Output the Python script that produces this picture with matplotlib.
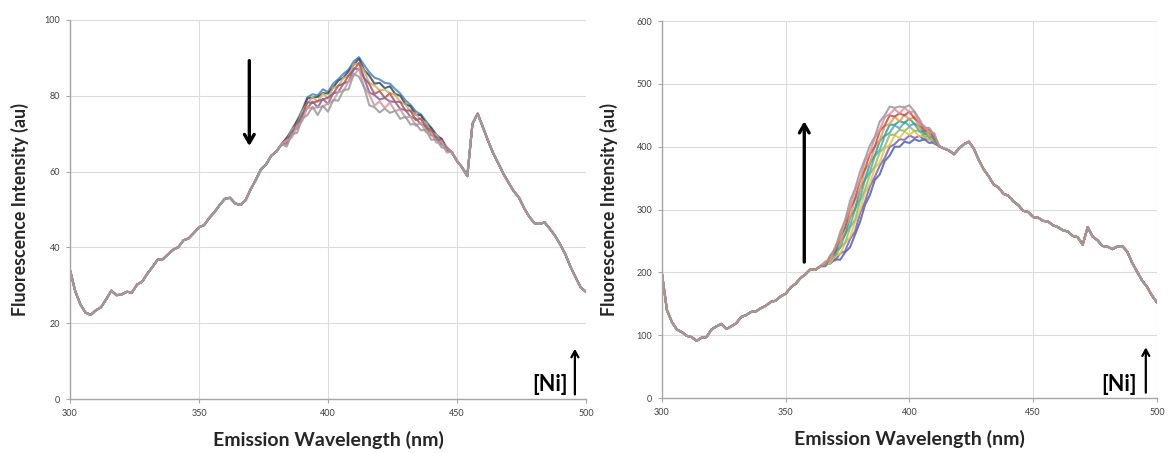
import numpy as np
import matplotlib
matplotlib.use("Agg")
import matplotlib.pyplot as plt

plt.rcParams['font.family'] = ['Lato', 'DejaVu Sans']

# ---------------- data ----------------
wavelength = list(range(300, 501, 2))

# Left panel: common spectrum (top curve)
left_base = [34.0, 28.5, 25.0, 22.8, 22.2, 23.4, 24.2, 26.3, 28.6, 27.4,
             27.6, 28.3, 28.1, 30.2, 31.0, 33.1, 34.9, 36.8, 36.9, 38.2,
             39.4, 40.1, 41.9, 42.4, 43.8, 45.3, 45.9, 47.8, 49.3, 51.2,
             52.8, 53.1, 51.6, 51.2, 52.4, 55.3, 57.8, 60.6, 61.9, 64.2,
             65.3, 67.2, 68.8, 71.2, 73.4, 76.3, 79.6, 80.4, 80.1, 81.7,
             81.0, 83.2, 84.4, 85.8, 86.9, 89.1, 90.2, 88.1, 86.2, 84.8,
             84.3, 83.4, 83.2, 81.8, 80.6, 78.8, 77.6, 75.9, 75.1, 73.3,
             71.6, 69.8, 68.6, 66.4, 65.1, 62.8, 61.1, 58.8, 72.6, 75.3,
             71.8, 68.2, 64.9, 62.2, 59.4, 57.1, 54.8, 53.2, 50.4, 48.1,
             46.4, 46.2, 46.6, 44.9, 43.1, 40.8, 38.2, 34.9, 32.1, 29.4,
             28.3]
# Left panel: region where the titration curves separate (384-446 nm)
left_window_start = 384
left_s1 = [68.9, 70.6, 73.3, 75.6, 79.3, 79.5, 79.7, 80.7, 80.6, 82.2, 84.0, 84.8,
           86.5, 88.2, 89.8, 86.8, 85.3, 83.2, 83.4, 82.0, 82.5, 80.5, 80.0, 77.8,
           77.2, 75.0, 74.9, 72.6, 71.5, 69.2, 68.7, 66.0]
left_s2 = [68.0, 71.0, 72.3, 75.8, 78.0, 79.6, 78.4, 80.6, 79.3, 82.1, 82.5, 84.7,
           85.2, 88.3, 88.5, 86.6, 83.4, 82.7, 81.5, 81.6, 80.7, 80.3, 78.4, 77.7,
           75.9, 75.1, 73.7, 72.8, 70.5, 69.6, 67.8, 66.5]
left_s3 = [68.6, 69.8, 72.8, 74.5, 78.3, 78.1, 78.6, 79.0, 79.5, 80.5, 82.7, 83.1,
           85.4, 86.8, 88.7, 84.7, 83.1, 80.5, 81.2, 79.5, 80.6, 78.4, 78.4, 76.1,
           76.1, 73.6, 74.0, 71.5, 71.0, 68.4, 68.4, 65.5]
left_s4 = [67.4, 70.5, 71.4, 75.0, 76.7, 78.5, 76.9, 79.2, 77.8, 80.7, 80.9, 83.3,
           83.7, 87.2, 87.0, 84.7, 80.9, 80.2, 79.0, 79.4, 78.5, 78.4, 76.5, 76.3,
           74.4, 74.0, 72.5, 72.0, 69.6, 69.1, 67.2, 66.3]
left_s5 = [68.2, 69.0, 72.0, 73.3, 77.0, 76.6, 77.1, 77.1, 78.0, 78.6, 81.0, 81.2,
           83.9, 85.3, 87.2, 82.3, 80.4, 77.4, 78.5, 76.8, 78.2, 76.0, 76.4, 74.2,
           74.6, 72.1, 72.9, 70.3, 70.2, 67.6, 68.0, 65.0]
left_s6 = [66.6, 69.9, 70.2, 74.0, 74.9, 77.1, 74.9, 77.4, 75.8, 78.9, 78.7, 81.5,
           81.7, 85.8, 85.0, 82.3, 77.5, 77.0, 75.6, 76.6, 75.5, 76.0, 73.9, 74.5,
           72.4, 72.6, 70.9, 71.0, 68.4, 68.5, 66.4, 66.1]

# Right panel: common spectrum (366-410 nm filled per series below)
right_base = [198, 140, 121, 109, 105, 99, 97, 91, 96, 97,
              109, 114, 118, 110, 114, 119, 129, 132, 137, 138,
              143, 147, 153, 155, 162, 166, 176, 182, 191, 197,
              205, 204, 210, 214, 221, 0, 0, 0, 0, 0,
              0, 0, 0, 0, 0, 0, 0, 0, 0, 0,
              0, 0, 0, 0, 0, 0, 401, 397, 394, 388,
              397, 404, 408, 397, 379, 364, 353, 340, 335, 325,
              322, 313, 307, 298, 296, 288, 287, 282, 281, 275,
              272, 267, 265, 258, 256, 244, 272, 257, 251, 242,
              241, 237, 241, 242, 233, 215, 201, 187, 177, 163,
              152]
right_window_start = 366
right_r0 = [214, 214, 221, 220, 232, 240, 260, 280, 307, 323, 347, 356, 377, 386, 400, 400, 408, 406, 412, 409, 412, 406, 407]
right_r1 = [210, 220, 219, 230, 234, 253, 265, 294, 312, 337, 352, 370, 382, 400, 404, 412, 411, 418, 414, 417, 411, 413, 405]
right_r2 = [215, 215, 227, 229, 247, 256, 280, 298, 327, 341, 366, 375, 397, 403, 418, 414, 424, 419, 425, 416, 419, 410, 411]
right_r3 = [210, 222, 224, 240, 247, 271, 284, 313, 331, 356, 369, 391, 400, 419, 419, 427, 425, 432, 425, 426, 415, 418, 408]
right_r4 = [216, 218, 233, 239, 261, 274, 300, 317, 347, 360, 385, 395, 417, 422, 434, 429, 439, 433, 437, 424, 424, 415, 416]
right_r5 = [210, 224, 229, 249, 260, 287, 301, 331, 348, 373, 386, 409, 418, 435, 435, 441, 438, 445, 436, 433, 420, 423, 411]
right_r6 = [217, 218, 238, 246, 272, 287, 316, 331, 363, 374, 400, 410, 433, 436, 448, 440, 451, 443, 448, 429, 429, 418, 419]
right_r7 = [211, 226, 233, 257, 271, 301, 317, 346, 364, 388, 400, 425, 434, 450, 448, 453, 450, 456, 445, 439, 425, 427, 414]
right_r8 = [217, 221, 241, 255, 283, 302, 330, 347, 377, 390, 414, 427, 447, 452, 460, 453, 462, 455, 456, 436, 433, 423, 422]
right_r9 = [212, 227, 238, 264, 283, 314, 333, 360, 380, 402, 416, 440, 450, 464, 462, 464, 463, 466, 456, 444, 430, 430, 418]

left_colors = ['#4F81BD', '#2C4D75', '#C9B458', '#C0504D', '#8064A2', '#D99694', '#999999']
right_colors = ['#4F5FBD', '#8064A2', '#E5C44B', '#9BBB59', '#4BACC6', '#2CA58D',
                '#F79646', '#C0504D', '#E88BA0', '#999999']

x_ticks = [300, 350, 400, 450, 500]
left_yticks = [0, 20, 40, 60, 80, 100]
right_yticks = [0, 100, 200, 300, 400, 500, 600]


def build(base, window_start, window_vals):
    arr = np.array(base, dtype=float).copy()
    if window_vals is not None:
        i0 = wavelength.index(window_start)
        arr[i0:i0 + len(window_vals)] = window_vals
    return arr


# ---------------- figure ----------------
fig = plt.figure(figsize=(11.71, 4.53), dpi=100)
axL = fig.add_axes([0.0598, 0.119, 0.4406, 0.837])
axR = fig.add_axes([0.5653, 0.1214, 0.4227, 0.832])

wl = np.array(wavelength)
left_series = [None, left_s1, left_s2, left_s3, left_s4, left_s5, left_s6]
for vals, c in zip(left_series, left_colors):
    axL.plot(wl, build(left_base, left_window_start, vals), color=c, lw=1.5, alpha=0.85)

right_series = [right_r0, right_r1, right_r2, right_r3, right_r4,
                right_r5, right_r6, right_r7, right_r8, right_r9]
for vals, c in zip(right_series, right_colors):
    axR.plot(wl, build(right_base, right_window_start, vals), color=c, lw=1.5, alpha=0.85)


def style(ax, yticks, ylab_x):
    ax.set_xlim(300, 500)
    ax.set_ylim(yticks[0], yticks[-1])
    ax.set_xticks(x_ticks)
    ax.set_yticks(yticks)
    ax.grid(True, color='#DCDCDC', lw=0.8)
    ax.set_axisbelow(True)
    for s in ['top', 'right']:
        ax.spines[s].set_visible(False)
    for s in ['left', 'bottom']:
        ax.spines[s].set_color('#A6A6A6')
        ax.spines[s].set_linewidth(1.0)
    ax.tick_params(axis='both', length=3, color='#A6A6A6', labelsize=6.5,
                   labelcolor='#404040', pad=4)
    xl = ax.set_xlabel('Emission Wavelength (nm)', fontsize=14, fontweight='bold',
                       color='#262626')
    yl = ax.set_ylabel('Fluorescence Intensity (au)', fontsize=12.8, fontweight='bold',
                       color='#262626')
    xl.set_verticalalignment('center')
    yl.set_verticalalignment('center')
    ax.xaxis.set_label_coords(0.5, -0.108)
    ax.yaxis.set_label_coords(ylab_x, 0.5)


style(axL, left_yticks, -0.097)
style(axR, right_yticks, -0.108)

arrow_kw = dict(arrowstyle='->,head_length=0.6,head_width=0.35', lw=2.4, color='black')
# Left: quenching arrow (down)
axL.annotate('', xy=(369.5, 66), xytext=(369.5, 90), arrowprops=arrow_kw)
# Right: enhancement arrow (up)
axR.annotate('', xy=(357.5, 445), xytext=(357.5, 212), arrowprops=arrow_kw)

small_kw = dict(arrowstyle='->,head_length=0.45,head_width=0.25', lw=1.6, color='black')
axL.text(493, 1.2, '[Ni]', ha='right', va='bottom', fontsize=15.5, fontweight='bold')
axL.annotate('', xy=(495.7, 14), xytext=(495.7, 0.5), arrowprops=small_kw)
axR.text(492, 5, '[Ni]', ha='right', va='bottom', fontsize=15.5, fontweight='bold')
axR.annotate('', xy=(495.5, 85), xytext=(495.5, 4), arrowprops=small_kw)

fig.savefig('out.png', dpi=100)
